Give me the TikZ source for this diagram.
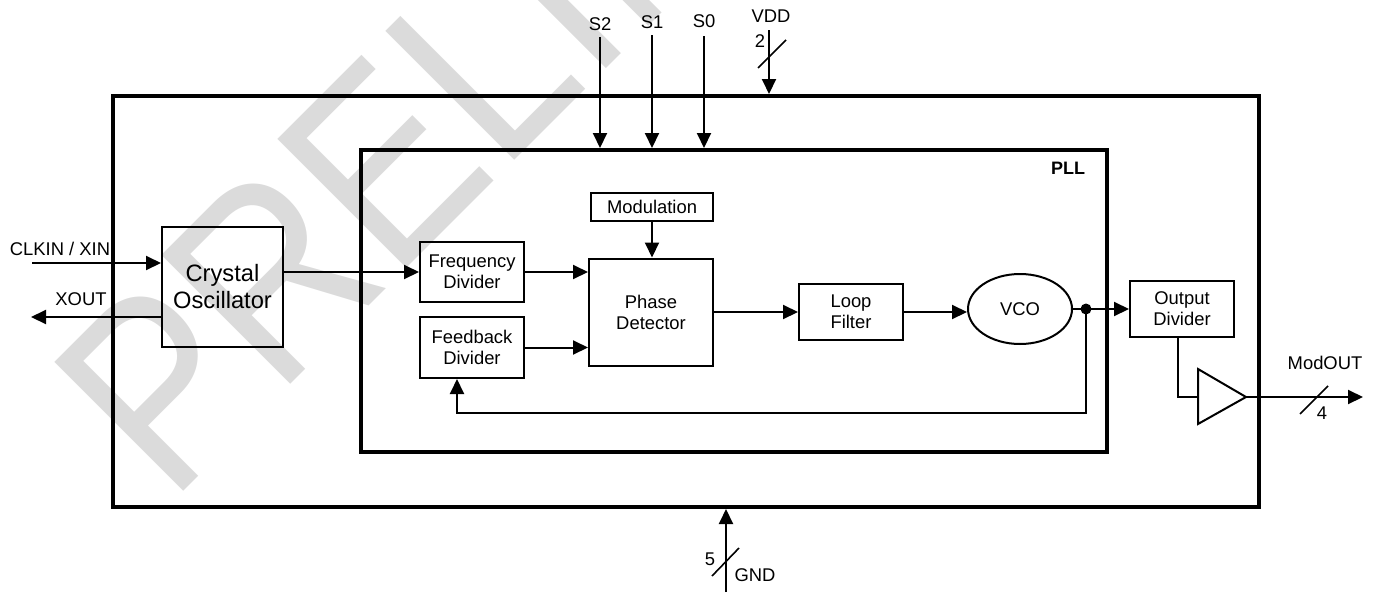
\documentclass[tikz,border=0pt]{standalone}
\usepackage{fontspec}
\setmainfont{Liberation Sans}
\usetikzlibrary{arrows.meta,shapes.geometric}

\begin{document}
\begin{tikzpicture}[x=1pt,y=-1pt,
  lbl/.style={font=\fontsize{18.4}{21}\selectfont, inner sep=0pt},
  blk/.style={draw, line width=2pt, align=center, inner sep=0pt, font=\fontsize{18.4}{21}\selectfont},
  arr/.style={line width=2pt, -{Triangle[length=15pt,width=14pt]}},
  wire/.style={line width=2pt},
  slash/.style={line width=1.6pt},
  frame/.style={draw, line width=4pt, inner sep=0pt},
  wmark/.style={rotate=45, xscale=0.86, anchor=base west, inner sep=0pt, text=black!14, font=\fontsize{265}{265}\selectfont}
]
\useasboundingbox (0,0) rectangle (1373,592);

% watermark
\begin{scope}
\clip (0,0) rectangle (1373,592);
\node[wmark] (wm) at (170,505) {PRELIMINARY};
\end{scope}

% frames
\node[frame, minimum width=1146pt, minimum height=411pt] (chip) at (686,301.5) {};
\node[frame, minimum width=746pt, minimum height=302pt] (pll) at (734,301) {};
\node[font=\bfseries\fontsize{18}{21}\selectfont, inner sep=0pt] (plllbl) at (1068,168) {PLL};

% blocks
\node[blk, minimum width=121pt, minimum height=120pt, font=\fontsize{23.7}{27}\selectfont] (xtal) at (222.5,287) {Crystal\\Oscillator};
\node[blk, minimum width=104pt, minimum height=60pt] (freq) at (472,272) {Frequency\\Divider};
\node[blk, minimum width=104pt, minimum height=61pt] (fb) at (472,347.5) {Feedback\\Divider};
\node[blk, minimum width=122pt, minimum height=28pt] (mod) at (652,207) {Modulation};
\node[blk, minimum width=124pt, minimum height=107pt] (phase) at (651,312) {Phase\\Detector};
\node[blk, minimum width=104pt, minimum height=56pt] (loop) at (851,312) {Loop\\Filter};
\node[blk, ellipse, minimum width=104pt, minimum height=70pt] (vco) at (1020,309) {VCO};
\node[blk, minimum width=104pt, minimum height=56pt] (outdiv) at (1182,309) {Output\\Divider};

% external labels
\node[lbl] (clkinl) at (60,249) {CLKIN / XIN};
\node[lbl] (xoutl) at (81,299) {XOUT};
\node[lbl] (s2l) at (600,24) {S2};
\node[lbl] (s1l) at (652,22) {S1};
\node[lbl] (s0l) at (704,21.5) {S0};
\node[lbl] (vddl) at (771,16.5) {VDD};
\node[lbl] (vddn) at (760,41) {2};
\node[lbl] (gndl) at (755,575) {GND};
\node[lbl] (gndn) at (710,559) {5};
\node[lbl] (modl) at (1325,363) {ModOUT};
\node[lbl] (modn) at (1322,413) {4};

% coordinates for free ends
\coordinate (clkin) at (32,263);
\coordinate (xout) at (31,317);
\coordinate (s2a) at (600,37);
\coordinate (s1a) at (652,35);
\coordinate (s0a) at (704,36);
\coordinate (vdda) at (769,30);
\coordinate (gnda) at (726,592);
\coordinate (dot) at (1086,309);
\coordinate (fbl) at (457,413);
\coordinate (bufin) at (1198,397);
\coordinate (bufout) at (1246,397);
\coordinate (modout) at (1363,397);

% inputs / outputs
\draw[arr] (clkin) -- (clkin -| xtal.west);
\draw[arr] (xtal.west |- xout) -- (xout);
\draw[arr] (s2a) -- (s2a |- pll.north);
\draw[arr] (s1a) -- (s1a |- pll.north);
\draw[arr] (s0a) -- (s0a |- pll.north);
\draw[arr] (vdda) -- (vdda |- chip.north);
\draw[slash] (758,68) -- (786,40);
\draw[arr] (gnda) -- (gnda |- chip.south);
\draw[slash] (712,576) -- (739,548);

% internal connectors
\draw[arr] (xtal.east |- freq.west) -- (freq.west);
\draw[arr] (freq.east) -- (freq.east -| phase.west);
\draw[arr] (fb.east) -- (fb.east -| phase.west);
\draw[arr] (mod.south) -- (mod.south |- phase.north);
\draw[arr] (phase.east) -- (loop.west);
\draw[arr] (loop.east) -- (loop.east -| vco.west);
\draw[wire] (vco.east) -- (dot);
\draw[arr] (dot) -- (dot -| outdiv.west);
\fill (dot) circle (5.5pt);
\draw[arr] (dot) |- (fbl) -- (fbl |- fb.south);

% output buffer
\draw[wire, line join=miter] (1198,369) -- (bufout) -- (1198,424) -- cycle;
\draw[wire] ([xshift=-4pt]outdiv.south) |- (bufin);
\draw[arr] (bufout) -- (modout);
\draw[slash] (1300,414) -- (1328,386);
\end{tikzpicture}
\end{document}
